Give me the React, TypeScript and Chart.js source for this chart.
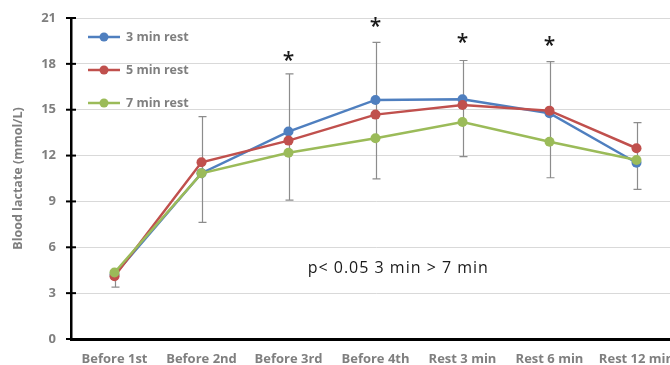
import React, { useEffect, useRef } from "react";
import { Chart, registerables } from "chart.js";

Chart.register(...registerables);

const categories = ["Before 1st", "Before 2nd", "Before 3rd", "Before 4th", "Rest 3 min", "Rest 6 min", "Rest 12 min"];
const rest3 = [4.2, 10.85, 13.57, 15.64, 15.68, 14.77, 11.53];
const rest5 = [4.1, 11.56, 12.98, 14.68, 15.31, 14.94, 12.48];
const rest7 = [4.35, 10.84, 12.19, 13.13, 14.2, 12.91, 11.71];
const errTop = [4.5, 14.55, 17.35, 19.4, 18.22, 18.15, 14.16];
const errBottom = [3.4, 7.63, 9.09, 10.47, 11.93, 10.55, 9.79];
const starCats = [2, 3, 4, 5];
const starValues = [18.26, 20.45, 19.4, 19.25];
const yTicks = [0, 3, 6, 9, 12, 15, 18, 21];
const seriesNames = ["3 min rest", "5 min rest", "7 min rest"];
const seriesColors = ["#4f7fbf", "#c0504d", "#9bbb59"];
const noteText = "p< 0.05 3 min > 7 min";
const noteCat = 2.22;
const noteValue = 4.6;

const FONT = "'Open Sans', 'Liberation Sans', sans-serif";

const overlay = {
  id: "overlay",
  beforeDatasetsDraw(chart: any) {
    const { ctx, scales } = chart;
    const x = scales.x, y = scales.y;
    ctx.save();
    ctx.strokeStyle = "#8c8c8c";
    ctx.lineWidth = 1.2;
    for (let i = 0; i < categories.length; i++) {
      const px = Math.round(x.getPixelForValue(i)) + 0.5;
      const t = y.getPixelForValue(errTop[i]);
      const b = y.getPixelForValue(errBottom[i]);
      ctx.beginPath();
      ctx.moveTo(px, t);
      ctx.lineTo(px, b);
      ctx.moveTo(px - 4, t);
      ctx.lineTo(px + 4, t);
      ctx.moveTo(px - 4, b);
      ctx.lineTo(px + 4, b);
      ctx.stroke();
    }
    ctx.strokeStyle = "#000";
    ctx.lineWidth = 2;
    const ax = chart.chartArea.left;
    yTicks.forEach((v) => {
      const py = y.getPixelForValue(v);
      ctx.beginPath();
      ctx.moveTo(ax - 5, py);
      ctx.lineTo(ax + 5, py);
      ctx.stroke();
    });
    ctx.restore();
  },
  afterDraw(chart: any) {
    const { ctx, scales } = chart;
    const x = scales.x, y = scales.y;
    ctx.save();
    ctx.fillStyle = "#1a1a1a";
    ctx.font = `600 21px ${FONT}`;
    ctx.textAlign = "center";
    ctx.textBaseline = "middle";
    starCats.forEach((c, i) => {
      ctx.fillText("*", x.getPixelForValue(c), y.getPixelForValue(starValues[i]) + 1);
    });
    ctx.font = `16px ${FONT}`;
    ctx.fillStyle = "#1a1a1a";
    ctx.textAlign = "left";
    try { (ctx as any).letterSpacing = "1px"; } catch (e) {}
    ctx.fillText(noteText, x.getPixelForValue(noteCat), y.getPixelForValue(noteValue));
    try { (ctx as any).letterSpacing = "0px"; } catch (e) {}
    const lx = chart.chartArea.left + 17;
    const ly = [37, 70, 103];
    seriesNames.forEach((name, i) => {
      ctx.strokeStyle = seriesColors[i];
      ctx.fillStyle = seriesColors[i];
      ctx.lineWidth = 2.5;
      ctx.beginPath();
      ctx.moveTo(lx, ly[i]);
      ctx.lineTo(lx + 32, ly[i]);
      ctx.stroke();
      ctx.beginPath();
      ctx.arc(lx + 16, ly[i], 4.5, 0, Math.PI * 2);
      ctx.fill();
      ctx.fillStyle = "#7f7f7f";
      ctx.font = `bold 12.5px ${FONT}`;
      ctx.textAlign = "left";
      ctx.textBaseline = "middle";
      ctx.fillText(name, lx + 38, ly[i]);
    });
    ctx.restore();
  },
};

export default function App() {
  const ref = useRef<HTMLCanvasElement>(null);
  useEffect(() => {
    if (!ref.current) return;
    const datasets = [rest3, rest5, rest7].map((d, i) => ({
      label: seriesNames[i],
      data: d,
      borderColor: seriesColors[i],
      backgroundColor: seriesColors[i],
      borderWidth: 2.5,
      pointRadius: 5,
      pointBorderWidth: 0,
      pointBackgroundColor: seriesColors[i],
      tension: 0,
      order: 3 - i,
    }));
    const chart = new Chart(ref.current, {
      type: "line",
      data: { labels: categories, datasets },
      options: {
        responsive: false,
        animation: false,
        events: [],
        layout: { padding: { top: 18, right: 10, left: 0, bottom: 0 } },
        plugins: { legend: { display: false }, tooltip: { enabled: false } },
        scales: {
          x: {
            offset: true,
            grid: { display: false },
            border: { display: true, color: "#000", width: 3 },
            ticks: {
              color: "#7f7f7f",
              font: { family: FONT, size: 13, weight: "bold" },
              maxRotation: 0,
              autoSkip: false,
              padding: 4,
            },
            afterFit(s: any) {
              s.height = 26;
            },
          },
          y: {
            min: 0,
            max: 21,
            afterBuildTicks(s: any) {
              s.ticks = yTicks.map((v) => ({ value: v }));
            },
            grid: { color: "#d9d9d9", lineWidth: 1, drawTicks: false },
            border: { display: true, color: "#000", width: 2.5 },
            ticks: {
              color: "#7f7f7f",
              font: { family: FONT, size: 13, weight: "bold" },
              padding: 15,
            },
            title: {
              display: true,
              text: "Blood lactate (mmol/L)",
              color: "#7f7f7f",
              font: { family: FONT, size: 12.5, weight: "bold" },
              padding: { top: 11, bottom: 0 },
            },
            afterFit(s: any) {
              s.width = 71;
              s.paddingTop = 0;
              s.paddingBottom = 0;
            },
          },
        },
      },
      plugins: [overlay],
    });
    return () => chart.destroy();
  }, []);
  return (
    <div style={{ position: "fixed", left: 0, top: 0, width: 690, height: 365 }}>
      <canvas ref={ref} width={690} height={365} style={{ width: 690, height: 365 }} />
    </div>
  );
}
